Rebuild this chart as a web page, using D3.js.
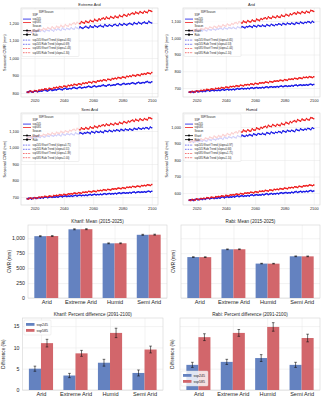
<!DOCTYPE html>
<html>
<head>
<meta charset="utf-8">
<script src="https://cdn.jsdelivr.net/npm/d3@7"></script>
<style>
  body { margin: 0; background: #fff; }
  svg { display: block; font-family: "Liberation Sans", Arial, sans-serif; }
</style>
</head>
<body>
<div id="chart"></div>
<script>
// ---- data ----
var years = d3.range(2015, 2101);
var yearTicks = [2020, 2040, 2060, 2080, 2100];
var regions = ["Arid", "Extreme Arid", "Humid", "Semi Arid"];
var ssps = ["ssp245", "ssp585"];

// Extreme Arid
var eaKharif245 = [1148,1156,1151,1145,1158,1153,1149,1160,1155,1152,1161,1154,1150,1163,1158,1155,1166,1159,1153,1164,1160,1168,1162,1157,1171,1165,1161,1170,1166,1163,1174,1168,1164,1177,1171,1167,1179,1173,1169,1176,1181,1174,1171,1184,1178,1175,1186,1180,1176,1183,1187,1180,1178,1191,1184,1181,1190,1186,1182,1189,1193,1186,1184,1197,1190,1188,1198,1192,1187,1196,1199,1193,1190,1203,1197,1194,1205,1199,1195,1202,1206,1199,1197,1210,1203,1200];
var eaKharif585 = [1152,1147,1158,1155,1149,1162,1157,1153,1166,1160,1158,1170,1166,1161,1175,1169,1165,1179,1172,1168,1182,1176,1173,1187,1180,1177,1191,1185,1181,1194,1189,1197,1201,1193,1205,1198,1196,1209,1203,1199,1212,1205,1203,1216,1210,1207,1221,1214,1211,1224,1218,1226,1229,1221,1234,1228,1224,1237,1231,1228,1240,1233,1230,1245,1238,1236,1249,1243,1239,1252,1246,1255,1258,1250,1263,1257,1253,1266,1260,1256,1268,1261,1259,1273,1270,1266];
var eaRabi245 = [803,808,811,806,804,810,813,807,809,812,810,815,818,813,811,817,820,814,816,819,817,822,825,820,818,824,827,821,823,826,824,829,832,827,825,831,834,828,830,833,831,836,839,834,832,838,841,835,837,840,838,843,846,841,839,845,848,842,844,847,845,850,853,848,846,852,855,849,851,854,851,856,859,854,852,858,861,855,857,860,858,863,866,860,859,864];
var eaRabi585 = [806,803,811,809,805,814,812,808,817,815,820,816,824,822,818,827,825,821,831,828,833,829,837,835,831,840,838,834,844,841,846,842,850,848,844,853,851,847,857,854,859,855,863,861,857,866,864,860,870,867,872,868,876,874,870,879,877,873,883,880,885,881,889,887,883,892,890,886,896,893,898,894,902,900,896,905,903,899,909,906,911,907,915,913,910,917];

// Arid
var aKharif245 = [1038,1045,1042,1036,1047,1043,1039,1049,1044,1041,1050,1044,1041,1053,1048,1045,1055,1050,1046,1054,1051,1058,1055,1049,1061,1056,1052,1062,1058,1055,1063,1057,1054,1066,1061,1058,1068,1063,1059,1067,1064,1071,1068,1062,1074,1069,1065,1075,1071,1068,1076,1070,1067,1079,1074,1071,1081,1076,1072,1080,1077,1084,1081,1075,1087,1082,1078,1088,1084,1081,1089,1083,1080,1092,1087,1084,1094,1089,1085,1093,1090,1097,1094,1088,1099,1093];
var aKharif585 = [1042,1037,1048,1045,1040,1052,1049,1044,1056,1051,1049,1060,1057,1052,1065,1061,1056,1069,1064,1060,1073,1067,1064,1078,1072,1069,1083,1077,1073,1086,1080,1088,1092,1084,1097,1091,1087,1100,1094,1090,1103,1096,1094,1107,1101,1098,1112,1106,1102,1115,1109,1117,1120,1112,1125,1119,1115,1128,1122,1119,1131,1124,1121,1136,1129,1127,1140,1134,1130,1143,1137,1146,1149,1141,1154,1148,1144,1157,1151,1147,1159,1152,1150,1164,1161,1157];
var aRabi245 = [674,678,677,673,679,681,676,680,682,678,683,679,684,686,681,685,687,683,686,684,688,684,689,691,686,690,692,688,691,689,693,689,694,697,692,695,698,694,697,695,699,695,700,702,697,701,703,699,702,700,704,700,705,707,702,706,708,704,707,705,709,705,710,712,707,711,713,709,712,710,715,711,716,718,713,717,719,715,718,716,720,716,721,723,718,721];
var aRabi585 = [676,673,680,678,675,683,681,678,686,684,688,685,692,690,687,695,693,690,698,696,699,696,703,701,698,706,704,701,709,707,710,707,714,712,709,717,715,712,720,718,721,718,725,723,720,728,726,723,731,729,732,729,736,734,731,739,737,734,742,740,743,740,747,745,742,750,748,745,753,751,754,751,758,756,753,761,759,756,764,762,765,761,768,765,762,767];

// Semi Arid
var saKharif245 = [1058,1065,1062,1056,1067,1063,1059,1069,1064,1061,1071,1065,1062,1075,1070,1066,1077,1072,1068,1076,1072,1079,1076,1070,1083,1078,1074,1084,1080,1077,1085,1079,1076,1089,1084,1081,1091,1086,1082,1090,1086,1093,1090,1084,1097,1092,1088,1098,1094,1091,1099,1093,1090,1103,1098,1095,1105,1100,1096,1104,1100,1107,1104,1098,1111,1106,1102,1112,1108,1105,1113,1107,1104,1117,1112,1109,1119,1114,1110,1118,1114,1121,1118,1112,1124,1119];
var saKharif585 = [1062,1057,1068,1065,1060,1072,1068,1064,1076,1071,1069,1080,1077,1072,1085,1080,1076,1089,1084,1080,1093,1087,1084,1098,1092,1089,1102,1097,1093,1105,1100,1108,1111,1103,1116,1110,1106,1119,1113,1110,1121,1114,1112,1125,1119,1117,1130,1124,1120,1133,1127,1135,1138,1130,1143,1137,1133,1146,1140,1137,1148,1142,1139,1153,1147,1144,1158,1152,1148,1160,1154,1163,1166,1158,1171,1165,1161,1174,1168,1164,1175,1169,1167,1181,1178,1174];
var saRabi245 = [689,693,692,688,694,696,691,695,697,693,698,694,699,701,696,700,702,698,701,699,703,699,704,706,701,705,707,703,706,704,708,704,709,711,706,710,712,708,711,709,713,709,714,716,711,715,717,713,716,714,718,714,719,721,716,720,722,718,721,719,723,719,724,726,721,725,727,723,726,724,728,724,729,731,726,730,732,728,731,729,733,729,734,736,731,735];
var saRabi585 = [691,688,695,693,690,697,695,692,700,698,701,698,705,703,700,707,705,702,710,708,711,708,715,713,710,717,715,712,720,718,721,718,725,723,720,727,725,722,730,728,731,728,735,733,730,737,735,732,740,738,741,738,745,743,740,747,745,742,750,748,751,748,755,753,750,757,755,752,760,758,761,758,765,763,760,767,765,762,770,768,771,768,775,773,770,776];

// Humid
var hKharif245 = [908,915,912,906,918,914,910,921,916,913,923,917,914,927,922,918,930,925,921,929,927,934,931,925,939,934,930,941,937,934,943,937,934,948,943,939,951,946,942,950,946,954,951,945,959,954,950,961,957,954,962,956,953,967,962,958,970,965,961,969,965,973,970,964,978,973,969,980,976,973,981,975,972,986,981,977,989,984,980,988,984,992,989,983,996,991];
var hKharif585 = [912,907,919,916,911,924,920,915,929,923,921,934,931,925,940,935,930,945,939,935,949,942,940,955,948,946,961,955,951,965,958,967,971,963,978,972,968,982,976,972,984,976,974,989,982,980,995,989,985,999,992,1001,1005,996,1011,1005,1001,1015,1009,1005,1017,1010,1007,1023,1016,1014,1029,1023,1019,1033,1026,1035,1039,1030,1045,1039,1035,1049,1043,1039,1051,1044,1042,1057,1054,1050];
var hRabi245 = [555,559,558,554,561,563,558,562,564,560,566,561,567,569,564,568,571,566,570,567,572,568,574,576,570,575,577,573,576,574,579,575,580,583,577,581,584,579,583,581,585,581,587,589,584,588,590,586,589,587,592,588,593,596,590,594,597,592,596,594,598,594,600,602,597,601,603,599,602,600,605,601,606,609,603,607,610,605,609,607,611,607,613,615,609,612];
var hRabi585 = [557,554,561,559,556,564,562,559,567,565,568,565,572,570,567,575,573,570,578,576,579,576,583,581,578,586,584,581,589,587,590,587,594,592,589,597,595,592,600,598,601,598,605,603,600,608,606,603,611,609,612,609,616,614,611,619,617,614,622,620,623,620,627,625,622,630,628,625,633,631,634,631,638,636,633,641,639,636,644,642,645,642,649,647,644,648];

// bar panels (order: Arid, Extreme Arid, Humid, Semi Arid)
var kharifMean245 = [1035, 1150, 915, 1058];
var kharifMean585 = [1037, 1152, 916, 1060];
var kharifMeanErr = [8, 8, 7, 8];
var rabiMean245 = [685, 815, 576, 698];
var rabiMean585 = [684, 816, 575, 697];
var rabiMeanErr = [6, 6, 5, 6];
var kharifPct245 = [5.0, 3.4, 6.4, 4.0];
var kharifPct585 = [11.0, 8.6, 13.4, 9.5];
var kharifPctErr245 = [0.6, 0.5, 0.8, 0.7];
var kharifPctErr585 = [0.9, 0.7, 1.1, 0.8];
var rabiPct245 = [5.9, 6.6, 7.5, 5.9];
var rabiPct585 = [12.4, 13.4, 14.8, 12.2];
var rabiPctErr245 = [0.6, 0.6, 0.8, 0.6];
var rabiPctErr585 = [0.8, 0.8, 1.0, 0.9];

// ---- drawing ----
var BLUE = "#1515e6", RED = "#ee1a1a";
var BAR_BLUE = "#6482c0", BAR_RED = "#d2666b";
var GRID = "#e6e6e6", EDGE = "#d4d4d4", TXT = "#262626";

var svg = d3.select("#chart").append("svg").attr("width", 324).attr("height", 400);
svg.append("rect").attr("width", 324).attr("height", 400).attr("fill", "#fff");

function styleAxis(g, fs) {
  g.select(".domain").remove();
  g.selectAll(".tick line").attr("stroke", GRID).attr("stroke-width", 0.5);
  g.selectAll(".tick text").attr("font-size", fs).attr("fill", TXT);
}

function slopeOf(v) {
  var mx = d3.mean(years), my = d3.mean(v);
  var num = d3.sum(years, (t, i) => (t - mx) * (v[i] - my));
  var den = d3.sum(years, t => (t - mx) * (t - mx));
  return { b: num / den, a: my - num / den * mx };
}

function linePanel(p) {
  var w = p.x1 - p.x0, h = p.y1 - p.y0;
  var x = d3.scaleLinear().domain([2010.75, 2104.25]).range([p.x0, p.x1]);
  var y = d3.scaleLinear().domain(p.dom).range([p.y1, p.y0]);

  svg.append("g").attr("transform", `translate(0,${p.y1})`)
    .call(d3.axisBottom(x).tickValues(yearTicks).tickFormat(d3.format("d")).tickSize(-h).tickPadding(2))
    .call(styleAxis, 3.9);
  svg.append("g").attr("transform", `translate(${p.x0},0)`)
    .call(d3.axisLeft(y).tickValues(p.ticks).tickSize(-w).tickPadding(2))
    .call(styleAxis, 3.9);
  svg.append("rect").attr("x", p.x0).attr("y", p.y0).attr("width", w).attr("height", h)
    .attr("fill", "none").attr("stroke", EDGE).attr("stroke-width", 0.6);

  svg.append("text").attr("x", (p.x0 + p.x1) / 2).attr("y", p.y0 - 2.5)
    .attr("text-anchor", "middle").attr("font-size", 3.9).attr("fill", TXT).text(p.name);
  svg.append("text").attr("transform", `translate(${p.x0 - 15.5},${(p.y0 + p.y1) / 2}) rotate(-90)`)
    .attr("text-anchor", "middle").attr("font-size", 3.9).attr("fill", TXT).text("Seasonal CWR (mm)");

  var line = d3.line().x((d, i) => x(years[i])).y(d => y(d));
  var series = [
    { v: p.k245, c: BLUE, m: "o" }, { v: p.k585, c: RED, m: "o" },
    { v: p.r245, c: BLUE, m: "s" }, { v: p.r585, c: RED, m: "s" }
  ];
  series.forEach(function(s) {
    svg.append("path").datum(s.v).attr("d", line).attr("fill", "none")
      .attr("stroke", s.c).attr("stroke-width", 0.9);
    var pts = svg.append("g").attr("fill", s.c);
    if (s.m == "o") {
      pts.selectAll("circle").data(s.v).join("circle")
        .attr("cx", (d, i) => x(years[i])).attr("cy", d => y(d)).attr("r", 0.75);
    } else {
      pts.selectAll("rect").data(s.v).join("rect")
        .attr("x", (d, i) => x(years[i]) - 0.7).attr("y", d => y(d) - 0.7)
        .attr("width", 1.4).attr("height", 1.4);
    }
  });
  // trend lines
  var trends = [
    { v: p.k245, c: BLUE, lab: "ssp245 Kharif" }, { v: p.r245, c: BLUE, lab: "ssp245 Rabi" },
    { v: p.k585, c: RED, lab: "ssp585 Kharif" }, { v: p.r585, c: RED, lab: "ssp585 Rabi" }
  ];
  trends.forEach(function(t) {
    t.fit = slopeOf(t.v);
    svg.append("line")
      .attr("x1", x(2015)).attr("y1", y(t.fit.a + t.fit.b * 2015))
      .attr("x2", x(2100)).attr("y2", y(t.fit.a + t.fit.b * 2100))
      .attr("stroke", t.c).attr("stroke-width", 0.6).attr("stroke-dasharray", "1.6,1")
      .attr("opacity", 0.8);
  });

  // legend
  var lg = svg.append("g").attr("transform", `translate(${p.x0 + 1},${p.y0 + 1})`)
    .attr("font-size", 2.6).attr("fill", TXT);
  lg.append("rect").attr("width", 57).attr("height", 47.5).attr("rx", 1)
    .attr("fill", "#fff").attr("fill-opacity", 0.8).attr("stroke", "#d8d8d8").attr("stroke-width", 0.4);
  lg.append("text").attr("x", 24).attr("y", 4.2).attr("text-anchor", "middle").text("SSP/Season");
  var rows = [
    { t: "SSP", y: 7.4 },
    { t: "ssp245", y: 11, c: BLUE },
    { t: "ssp585", y: 14.4, c: RED },
    { t: "Season", y: 17.8 },
    { t: "Kharif", y: 22.5, c: "#000", m: "o" },
    { t: "Rabi", y: 26.5, c: "#000", m: "s" }
  ];
  trends.forEach(function(t, i) {
    rows.push({ t: t.lab + " Trend (slope=" + t.fit.b.toFixed(2) + ")", y: 32 + i * 4.2, c: t.c, dash: true });
  });
  rows.forEach(function(r) {
    if (r.c) {
      lg.append("line").attr("x1", 1).attr("x2", 9).attr("y1", r.y - 0.9).attr("y2", r.y - 0.9)
        .attr("stroke", r.c).attr("stroke-width", r.dash ? 0.6 : 0.8)
        .attr("stroke-dasharray", r.dash ? "1.6,1" : null);
      if (r.m == "o") lg.append("circle").attr("cx", 5).attr("cy", r.y - 0.9).attr("r", 1).attr("fill", r.c);
      if (r.m == "s") lg.append("rect").attr("x", 4).attr("y", r.y - 1.9).attr("width", 2).attr("height", 2).attr("fill", r.c);
    }
    lg.append("text").attr("x", 10.5).attr("y", r.y).text(r.t);
  });
}

function barPanel(p) {
  var w = p.x1 - p.x0, h = p.y1 - p.y0;
  var x = d3.scaleLinear().domain([-0.535, 3.535]).range([p.x0, p.x1]);
  var y = d3.scaleLinear().domain([0, p.ymax]).range([p.y1, p.y0]);

  svg.append("g").attr("transform", `translate(0,${p.y1})`)
    .call(d3.axisBottom(x).tickValues([0, 1, 2, 3]).tickFormat(i => regions[i]).tickSize(-h).tickPadding(2))
    .call(styleAxis, 5.6);
  var ya = svg.append("g").attr("transform", `translate(${p.x0},0)`)
    .call(d3.axisLeft(y).tickValues(p.ticks).tickSize(-w).tickPadding(3))
    .call(styleAxis, 5.2);
  if (!p.showY) ya.selectAll(".tick text").remove();
  svg.append("rect").attr("x", p.x0).attr("y", p.y0).attr("width", w).attr("height", h)
    .attr("fill", "none").attr("stroke", EDGE).attr("stroke-width", 0.6);

  svg.append("text").attr("x", (p.x0 + p.x1) / 2).attr("y", p.y0 - 2.5)
    .attr("text-anchor", "middle").attr("font-size", 4.6).attr("fill", TXT).text(p.title);
  svg.append("text").attr("transform", `translate(${p.ylabX},${(p.y0 + p.y1) / 2}) rotate(-90)`)
    .attr("text-anchor", "middle").attr("font-size", 4.6).attr("fill", TXT).text(p.ylab);

  var groups = [
    { v: p.v245, e: p.e245, c: BAR_BLUE, off: -0.35 },
    { v: p.v585, e: p.e585, c: BAR_RED, off: 0 }
  ];
  groups.forEach(function(gr) {
    svg.append("g").attr("fill", gr.c).selectAll("rect").data(gr.v).join("rect")
      .attr("x", (d, i) => x(i + gr.off)).attr("width", x(0.35) - x(0))
      .attr("y", d => y(d)).attr("height", d => y(0) - y(d));
    var eb = svg.append("g").attr("stroke", "#111").attr("stroke-width", 0.6);
    gr.v.forEach(function(d, i) {
      var cx = x(i + gr.off + 0.175);
      eb.append("line").attr("x1", cx).attr("x2", cx).attr("y1", y(d - gr.e[i])).attr("y2", y(d + gr.e[i]));
      eb.append("line").attr("x1", cx - 1.3).attr("x2", cx + 1.3).attr("y1", y(d - gr.e[i])).attr("y2", y(d - gr.e[i]));
      eb.append("line").attr("x1", cx - 1.3).attr("x2", cx + 1.3).attr("y1", y(d + gr.e[i])).attr("y2", y(d + gr.e[i]));
    });
  });

  if (p.legend) {
    var lg = svg.append("g").attr("transform", `translate(${p.legend[0]},${p.legend[1]})`)
      .attr("font-size", 3.6).attr("fill", TXT);
    lg.append("rect").attr("width", 27).attr("height", 15).attr("rx", 1)
      .attr("fill", "#fff").attr("fill-opacity", 0.8).attr("stroke", "#d8d8d8").attr("stroke-width", 0.4);
    [[ssps[0], BAR_BLUE], [ssps[1], BAR_RED]].forEach(function(e, i) {
      lg.append("rect").attr("x", 2).attr("y", 3 + i * 6).attr("width", 8.5).attr("height", 2.8).attr("fill", e[1]);
      lg.append("text").attr("x", 12.5).attr("y", 5.6 + i * 6).text(e[0]);
    });
  }
}

// line panels
linePanel({ name: "Extreme Arid", x0: 21, x1: 158, y0: 8, y1: 97, dom: [777, 1286], ticks: [800, 900, 1000, 1100, 1200],
  k245: eaKharif245, k585: eaKharif585, r245: eaRabi245, r585: eaRabi585 });
linePanel({ name: "Arid", x0: 183, x1: 320, y0: 8, y1: 97, dom: [646, 1178], ticks: [700, 800, 900, 1000, 1100],
  k245: aKharif245, k585: aKharif585, r245: aRabi245, r585: aRabi585 });
linePanel({ name: "Semi Arid", x0: 21, x1: 158, y0: 113, y1: 205, dom: [652, 1209], ticks: [700, 800, 900, 1000, 1100],
  k245: saKharif245, k585: saKharif585, r245: saRabi245, r585: saRabi585 });
linePanel({ name: "Humid", x0: 183, x1: 320, y0: 113, y1: 205, dom: [527, 1085], ticks: [600, 700, 800, 900, 1000],
  k245: hKharif245, k585: hKharif585, r245: hRabi245, r585: hRabi585 });

// bar panels
barPanel({ title: "Kharif: Mean (2015-2025)", ylab: "CWR (mm)", ylabX: 11, x0: 28, x1: 167, y0: 225, y1: 298,
  ymax: 1222, ticks: [0, 250, 500, 750, 1000], showY: true,
  v245: kharifMean245, v585: kharifMean585, e245: kharifMeanErr, e585: kharifMeanErr });
barPanel({ title: "Rabi: Mean (2015-2025)", ylab: "CWR (mm)", ylabX: 175, x0: 181, x1: 320, y0: 225, y1: 298,
  ymax: 1222, ticks: [0, 250, 500, 750, 1000], showY: false,
  v245: rabiMean245, v585: rabiMean585, e245: rabiMeanErr, e585: rabiMeanErr });
barPanel({ title: "Kharif: Percent difference (2091-2100)", ylab: "Difference (%)", ylabX: 5, x0: 22.5, x1: 163, y0: 318, y1: 390,
  ymax: 16.9, ticks: [0, 5, 10, 15], showY: true,
  v245: kharifPct245, v585: kharifPct585, e245: kharifPctErr245, e585: kharifPctErr585, legend: [24, 320] });
barPanel({ title: "Rabi: Percent difference (2091-2100)", ylab: "Difference (%)", ylabX: 174, x0: 180, x1: 320, y0: 318, y1: 390,
  ymax: 16.9, ticks: [0, 5, 10, 15], showY: false,
  v245: rabiPct245, v585: rabiPct585, e245: rabiPctErr245, e585: rabiPctErr585, legend: [181, 371] });
</script>
</body>
</html>
